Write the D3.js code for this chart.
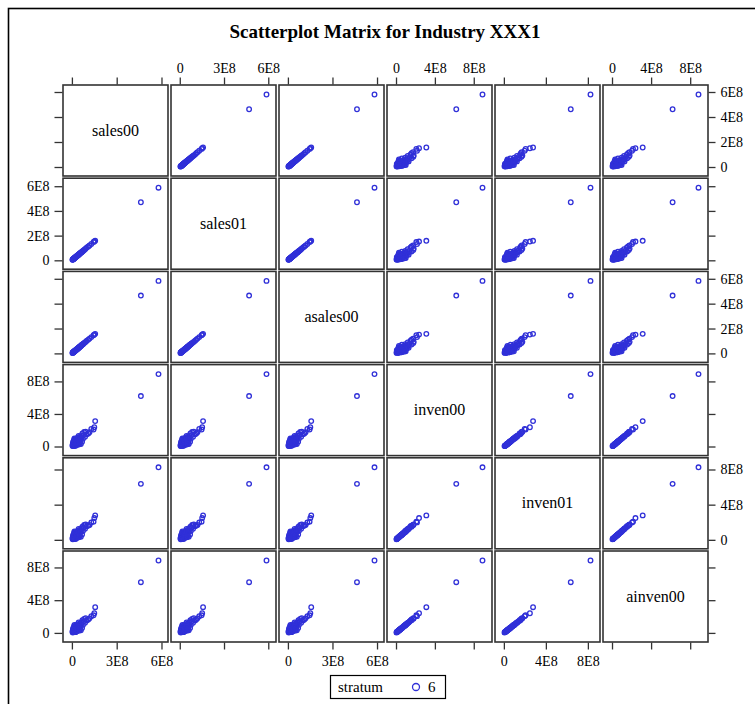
<!DOCTYPE html>
<html lang="en">
<head>
    <meta charset="UTF-8">
    <title>Scatterplot Matrix for Industry XXX1</title>
    <script src="https://d3js.org/d3.v7.min.js"></script>
    <style>
        body { margin: 0; background: #fff; }
        text { font-family: "Liberation Serif", "DejaVu Serif", serif; fill: #000; }
        .title { font-size: 19px; font-weight: bold; }
        .tick text { font-size: 14px; font-family: "Liberation Serif", serif; }
        .tick line, .domain { stroke: #333; stroke-width: 1.3px; }
        .panel { fill: #fff; stroke: #333; stroke-width: 1.6px; }
        .diag { font-size: 16px; }
        .pt { fill: none; stroke: #3030d8; stroke-width: 1.3px; }
    </style>
</head>
<body>
<svg width="755" height="704"></svg>
<script>
// values in millions (1E8 = 100)
const varNames = ["sales00", "sales01", "asales00", "inven00", "inven01", "ainven00"];
const sales00  = [580, 462, 156, 150, 145, 130, 118, 110, 100, 92, 88, 82, 78, 74, 70, 68, 65, 62, 60, 58, 55, 53, 50, 48, 46, 44, 42, 40, 38, 36, 34, 32, 30, 28, 26, 24, 22, 20, 18, 16, 15, 13, 12, 10, 9, 8, 7, 6, 5, 4, 35, 27, 21, 19, 14, 11, 45, 52, 33, 25, 17, 8];
const sales01  = [588, 470, 158, 152, 148, 132, 120, 112, 104, 95, 90, 84, 80, 75, 72, 70, 66, 64, 61, 59, 56, 55, 51, 50, 47, 45, 43, 41, 39, 37, 35, 33, 31, 29, 27, 25, 23, 21, 19, 17, 16, 14, 13, 11, 10, 9, 8, 7, 6, 5, 36, 28, 22, 20, 15, 12, 46, 53, 34, 26, 18, 9];
const asales00 = [583, 465, 157, 151, 146, 131, 119, 111, 102, 93, 89, 83, 79, 74, 71, 69, 65, 63, 60, 58, 55, 54, 50, 49, 46, 44, 42, 40, 38, 36, 34, 32, 30, 28, 26, 24, 22, 20, 18, 16, 15, 13, 12, 10, 9, 8, 7, 6, 5, 4, 35, 27, 21, 19, 14, 11, 45, 52, 33, 25, 17, 8];
const inven00  = [890, 620, 312, 237, 209, 216, 175, 160, 150, 182, 120, 178, 140, 95, 160, 60, 130, 105, 30, 85, 120, 70, 45, 100, 25, 80, 55, 110, 35, 65, 90, 20, 50, 75, 40, 15, 60, 30, 45, 12, 85, 25, 38, 8, 55, 18, 30, 5, 22, 10, 28, 95, 70, 10, 48, 65, 130, 35, 58, 8, 100, 40];
const inven01  = [825, 637, 278, 248, 207, 198, 170, 162, 155, 176, 125, 168, 138, 100, 150, 62, 128, 110, 34, 88, 115, 72, 48, 96, 28, 82, 58, 104, 36, 68, 86, 22, 53, 72, 42, 18, 58, 32, 43, 14, 80, 27, 40, 10, 52, 20, 28, 6, 24, 12, 30, 90, 68, 12, 50, 62, 124, 38, 55, 10, 95, 42];
const ainven00 = [885, 620, 314, 240, 215, 205, 178, 165, 152, 180, 123, 172, 139, 98, 155, 61, 129, 108, 32, 87, 118, 71, 46, 98, 26, 81, 56, 107, 35, 66, 88, 21, 51, 74, 41, 16, 59, 31, 44, 13, 82, 26, 39, 9, 54, 19, 29, 5, 23, 11, 29, 93, 69, 11, 49, 64, 128, 36, 57, 9, 98, 41];
const salesXTicks = [0, 300, 600];
const salesYTicks = [0, 200, 400, 600];
const invenTicks  = [0, 400, 800];
const legendLabel = "stratum";
const legendValue = "6";

const columns = [sales00, sales01, asales00, inven00, inven01, ainven00];
const isSales = [true, true, true, false, false, false];

const svg = d3.select("svg");
const x0 = 63, y0 = 85, pw = 105, ph = 91, stepX = 108, stepY = 93.2, inset = 9.5;
const n = varNames.length;

const fmt = v => v === 0 ? "0" : (v / 100) + "E8";

// outer frame
svg.append("rect").attr("x", 8.5).attr("y", 8.5).attr("width", 760).attr("height", 720)
    .attr("fill", "none").attr("stroke", "#000").attr("stroke-width", 1.6);

svg.append("text").attr("class", "title").attr("x", 385).attr("y", 38)
    .attr("text-anchor", "middle").text("Scatterplot Matrix for Industry XXX1");

const xScales = columns.map((c, j) => d3.scaleLinear()
    .domain(d3.extent(c))
    .range([x0 + j * stepX + inset, x0 + j * stepX + pw - inset]));
const yScales = columns.map((c, i) => d3.scaleLinear()
    .domain(d3.extent(c))
    .range([y0 + i * stepY + ph - inset, y0 + i * stepY + inset]));

// panels
for (let i = 0; i < n; i++) {
    for (let j = 0; j < n; j++) {
        const g = svg.append("g");
        g.append("rect").attr("class", "panel")
            .attr("x", x0 + j * stepX).attr("y", y0 + i * stepY)
            .attr("width", pw).attr("height", ph);
        if (i === j) {
            g.append("text").attr("class", "diag")
                .attr("x", x0 + j * stepX + pw / 2).attr("y", y0 + i * stepY + ph / 2 + 5)
                .attr("text-anchor", "middle").text(varNames[i]);
            continue;
        }
        g.selectAll("circle").data(d3.range(columns[0].length)).join("circle")
            .attr("class", "pt")
            .attr("cx", k => xScales[j](columns[j][k]))
            .attr("cy", k => yScales[i](columns[i][k]))
            .attr("r", 2.3);
    }
}

// axes
for (let j = 0; j < n; j++) {
    const ticks = isSales[j] ? salesXTicks : invenTicks;
    const labelTop = j % 2 === 1;
    const tAx = d3.axisTop(xScales[j]).tickValues(ticks).tickSize(7).tickPadding(5)
        .tickFormat(labelTop ? fmt : () => "");
    const bAx = d3.axisBottom(xScales[j]).tickValues(ticks).tickSize(7).tickPadding(7)
        .tickFormat(labelTop ? () => "" : fmt);
    svg.append("g").attr("transform", `translate(0,${y0 - 0.5})`).call(tAx)
        .call(g => g.select(".domain").remove());
    svg.append("g").attr("transform", `translate(0,${y0 + (n - 1) * stepY + ph + 0.5})`).call(bAx)
        .call(g => g.select(".domain").remove());
}
for (let i = 0; i < n; i++) {
    const ticks = isSales[i] ? salesYTicks : invenTicks;
    const labelLeft = i % 2 === 1;
    const lAx = d3.axisLeft(yScales[i]).tickValues(ticks).tickSize(8).tickPadding(5)
        .tickFormat(labelLeft ? fmt : () => "");
    const rAx = d3.axisRight(yScales[i]).tickValues(ticks).tickSize(7).tickPadding(5)
        .tickFormat(labelLeft ? () => "" : fmt);
    svg.append("g").attr("transform", `translate(${x0 - 0.5},0)`).call(lAx)
        .call(g => g.select(".domain").remove());
    svg.append("g").attr("transform", `translate(${x0 + (n - 1) * stepX + pw + 0.5},0)`).call(rAx)
        .call(g => g.select(".domain").remove());
}

// legend
const lg = svg.append("g");
lg.append("rect").attr("x", 330.5).attr("y", 675.5).attr("width", 115).attr("height", 23)
    .attr("fill", "#fff").attr("stroke", "#000").attr("stroke-width", 1.2);
lg.append("text").attr("x", 338).attr("y", 692).style("font-size", "15px").text(legendLabel);
lg.append("circle").attr("class", "pt").attr("cx", 416).attr("cy", 687).attr("r", 3.5);
lg.append("text").attr("x", 428).attr("y", 692).style("font-size", "15px").text(legendValue);
</script>
</body>
</html>
